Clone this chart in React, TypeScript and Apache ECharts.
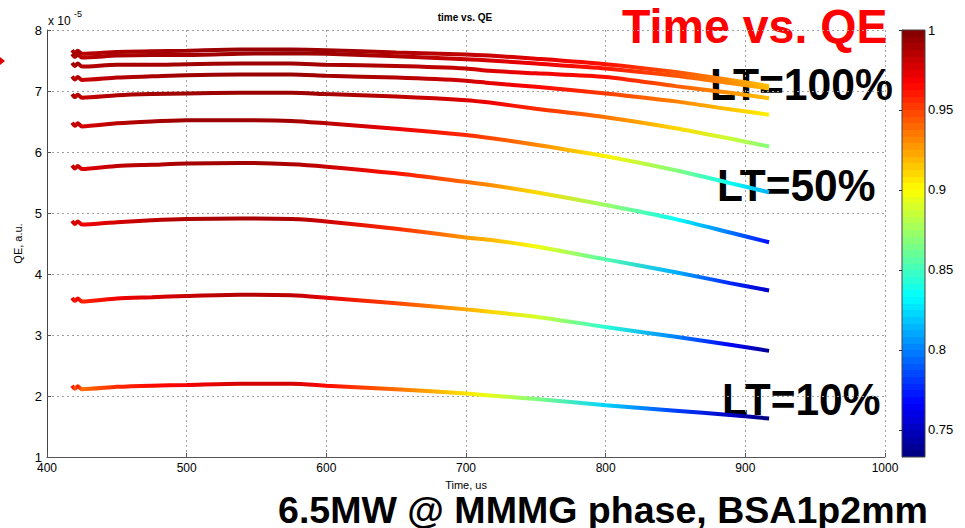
import React, { useEffect, useRef } from 'react';
import * as echarts from 'echarts';

// Sampled time (us) for all curves
const TIMES = [418, 420, 422, 425, 450, 475, 500, 538, 575, 600, 650, 700, 717, 750, 800, 850, 889, 917];

// QE values (x 1e-5), from top (LT=100%) to bottom (LT=10%)
const QE_1 = [7.67, 7.62, 7.66, 7.61, 7.64, 7.65, 7.66, 7.68, 7.68, 7.67, 7.63, 7.60, 7.58, 7.53, 7.44, 7.31, 7.18, 7.08];
const QE_2 = [7.61, 7.56, 7.60, 7.55, 7.58, 7.59, 7.59, 7.61, 7.62, 7.61, 7.57, 7.52, 7.50, 7.45, 7.37, 7.25, 7.13, 7.04];
const QE_3 = [7.46, 7.41, 7.45, 7.40, 7.43, 7.43, 7.44, 7.45, 7.45, 7.43, 7.41, 7.37, 7.33, 7.29, 7.23, 7.08, 6.97, 6.88];
const QE_4 = [7.24, 7.19, 7.23, 7.18, 7.22, 7.24, 7.26, 7.27, 7.27, 7.25, 7.22, 7.17, 7.13, 7.07, 6.96, 6.83, 6.70, 6.61];
const QE_5 = [6.95, 6.90, 6.94, 6.89, 6.93, 6.95, 6.96, 6.97, 6.97, 6.95, 6.91, 6.85, 6.81, 6.71, 6.57, 6.39, 6.22, 6.09];
const QE_6 = [6.48, 6.43, 6.47, 6.42, 6.47, 6.50, 6.52, 6.52, 6.51, 6.47, 6.38, 6.28, 6.23, 6.12, 5.93, 5.70, 5.49, 5.34];
const QE_7 = [5.78, 5.73, 5.77, 5.72, 5.77, 5.79, 5.81, 5.82, 5.80, 5.76, 5.65, 5.51, 5.46, 5.34, 5.13, 4.90, 4.68, 4.52];
const QE_8 = [4.87, 4.82, 4.86, 4.81, 4.85, 4.88, 4.90, 4.91, 4.90, 4.86, 4.74, 4.60, 4.56, 4.45, 4.24, 4.03, 3.85, 3.73];
const QE_9 = [3.61, 3.56, 3.60, 3.55, 3.60, 3.62, 3.64, 3.66, 3.65, 3.61, 3.52, 3.42, 3.38, 3.30, 3.13, 2.97, 2.84, 2.74];
const QE_10 = [2.17, 2.12, 2.16, 2.11, 2.15, 2.17, 2.18, 2.20, 2.20, 2.17, 2.11, 2.04, 2.01, 1.95, 1.85, 1.76, 1.69, 1.63];
const CURVES = [QE_1, QE_2, QE_3, QE_4, QE_5, QE_6, QE_7, QE_8, QE_9, QE_10];

// Noise half-band (x 1e-5) added to a curve's peak for its colour normalisation
const NOISE_BAND = 0.05;

// Axes
const X_MIN = 400;
const X_MAX = 1000;
const X_STEP = 100;
const Y_MIN = 1;
const Y_MAX = 8;
const Y_STEP = 1;

// Colour bar (normalised QE)
const CBAR_MIN = 0.733;
const CBAR_MAX = 1;
const CBAR_TICKS = [0.75, 0.8, 0.85, 0.9, 0.95, 1];

// Annotations
const LT_LABELS = ['LT=100%', 'LT=50%', 'LT=10%'];

const FONT = '"Liberation Sans", Arial, Helvetica, sans-serif';

function clamp01(v: number) {
  return Math.max(0, Math.min(1, v));
}
function jet(x: number) {
  const r = clamp01(Math.min(4 * x - 1.5, -4 * x + 4.5));
  const g = clamp01(Math.min(4 * x - 0.5, -4 * x + 3.5));
  const b = clamp01(Math.min(4 * x + 0.5, -4 * x + 2.5));
  return `rgb(${Math.round(r * 255)},${Math.round(g * 255)},${Math.round(b * 255)})`;
}
function norm(v: number) {
  return clamp01((v - CBAR_MIN) / (CBAR_MAX - CBAR_MIN));
}

export default function App() {
  const ref = useRef<HTMLDivElement>(null);
  useEffect(() => {
    if (!ref.current) return;
    const chart = echarts.init(ref.current, null, { renderer: 'svg' });
    const t0 = TIMES[0];
    const tN = TIMES[TIMES.length - 1];

    const lineSeries = CURVES.map((vals) => {
      const vref = Math.max(...vals) + NOISE_BAND;
      return {
        type: 'line',
        xAxisIndex: 0,
        yAxisIndex: 0,
        data: TIMES.map((t, j) => [t, vals[j]]),
        showSymbol: false,
        silent: true,
        smooth: 0.25,
        lineStyle: {
          width: 4,
          color: {
            type: 'linear',
            x: 0,
            y: 0,
            x2: 1,
            y2: 0,
            colorStops: TIMES.map((t, j) => ({
              offset: (t - t0) / (tN - t0),
              color: jet(norm(vals[j] / vref)),
            })),
          },
        },
      };
    });

    const bands: any[] = [];
    const N = 64;
    for (let i = 0; i < N; i++) {
      const c = jet((i + 0.5) / N);
      bands.push({ offset: i / N, color: c });
      bands.push({ offset: (i + 1) / N, color: c });
    }

    const gridLine = { show: true, lineStyle: { color: '#a0a0a0', type: [2, 3], width: 1 } };

    chart.setOption({
      animation: false,
      backgroundColor: '#ffffff',
      grid: [
        { left: 47, top: 30, right: 80, bottom: 71 },
        { left: 902, top: 30, width: 23, height: 427 },
      ],
      xAxis: [
        {
          type: 'value',
          gridIndex: 0,
          min: X_MIN,
          max: X_MAX,
          interval: X_STEP,
          name: 'Time, us',
          nameLocation: 'middle',
          nameGap: 22,
          nameTextStyle: { color: '#000', fontSize: 11, fontFamily: FONT },
          axisLine: { show: true, lineStyle: { color: '#555', width: 1 } },
          axisTick: { show: true, inside: true, length: 4, lineStyle: { color: '#555' } },
          axisLabel: { color: '#000', fontSize: 12, fontFamily: FONT, margin: 5, formatter: (v: number) => String(v) },
          splitLine: gridLine,
        },
        { type: 'value', gridIndex: 1, min: 0, max: 1, show: false },
      ],
      yAxis: [
        {
          type: 'value',
          gridIndex: 0,
          min: Y_MIN,
          max: Y_MAX,
          interval: Y_STEP,
          name: 'QE, a.u.',
          nameLocation: 'middle',
          nameGap: 24,
          nameTextStyle: { color: '#000', fontSize: 11, fontFamily: FONT },
          axisLine: { show: true, lineStyle: { color: '#444', width: 1 } },
          axisTick: { show: true, inside: true, length: 4, lineStyle: { color: '#555' } },
          axisLabel: { color: '#000', fontSize: 13, fontFamily: FONT, margin: 5 },
          splitLine: gridLine,
        },
        {
          type: 'value',
          gridIndex: 1,
          min: CBAR_MIN,
          max: CBAR_MAX,
          position: 'right',
          axisLine: { show: true, lineStyle: { color: '#333', width: 1 } },
          axisTick: { show: true, inside: true, length: 3, customValues: CBAR_TICKS, lineStyle: { color: '#222' } },
          axisLabel: { color: '#000', fontSize: 13, fontFamily: FONT, margin: 3, customValues: CBAR_TICKS },
          splitLine: { show: false },
        },
      ],
      series: [
        ...lineSeries,
        {
          type: 'custom',
          xAxisIndex: 1,
          yAxisIndex: 1,
          silent: true,
          clip: false,
          z: 1,
          data: [[0.5, 0.9]],
          renderItem: (params: any) => {
            const cs = params.coordSys;
            return {
              type: 'rect',
              shape: { x: cs.x, y: cs.y, width: cs.width, height: cs.height },
              style: {
                fill: new echarts.graphic.LinearGradient(0, 1, 0, 0, bands),
                stroke: '#444',
                lineWidth: 1,
              },
            };
          },
        },
      ],
      graphic: [
        { type: 'polygon', shape: { points: [[0, 57], [5, 61], [0, 65]] }, style: { fill: '#e00000' } },
        { type: 'text', x: 48, y: 21, style: { text: 'x 10', fontSize: 12, fontFamily: FONT, fill: '#000', align: 'left', verticalAlign: 'middle' } },
        { type: 'text', x: 74, y: 14, style: { text: '-5', fontSize: 9, fontFamily: FONT, fill: '#000', align: 'left', verticalAlign: 'middle' } },
        { type: 'text', x: 465, y: 17, style: { text: 'time vs. QE', fontSize: 10, fontWeight: 'bold', fontFamily: FONT, fill: '#000', align: 'center', verticalAlign: 'middle' } },
        { type: 'text', x: 622, y: 26, scaleX: 0.97, style: { text: 'Time vs. QE', fontSize: 48, fontWeight: 'bold', fontFamily: FONT, fill: '#ff0000', align: 'left', verticalAlign: 'middle' } },
        { type: 'text', x: 710, y: 85, scaleX: 0.97, style: { text: LT_LABELS[0], fontSize: 44, fontWeight: 'bold', fontFamily: FONT, fill: '#000', align: 'left', verticalAlign: 'middle' } },
        { type: 'text', x: 717, y: 186, scaleX: 0.965, style: { text: LT_LABELS[1], fontSize: 44, fontWeight: 'bold', fontFamily: FONT, fill: '#000', align: 'left', verticalAlign: 'middle' } },
        { type: 'text', x: 722, y: 400, scaleX: 0.965, style: { text: LT_LABELS[2], fontSize: 44, fontWeight: 'bold', fontFamily: FONT, fill: '#000', align: 'left', verticalAlign: 'middle' } },
        { type: 'text', x: 278, y: 510, scaleX: 1.015, style: { text: '6.5MW @ MMMG phase, BSA1p2mm', fontSize: 37, fontWeight: 'bold', fontFamily: FONT, fill: '#000', align: 'left', verticalAlign: 'middle' } },
      ],
    });
    return () => chart.dispose();
  }, []);
  return <div ref={ref} style={{ position: 'fixed', left: 0, top: 0, width: 965, height: 528 }} />;
}
